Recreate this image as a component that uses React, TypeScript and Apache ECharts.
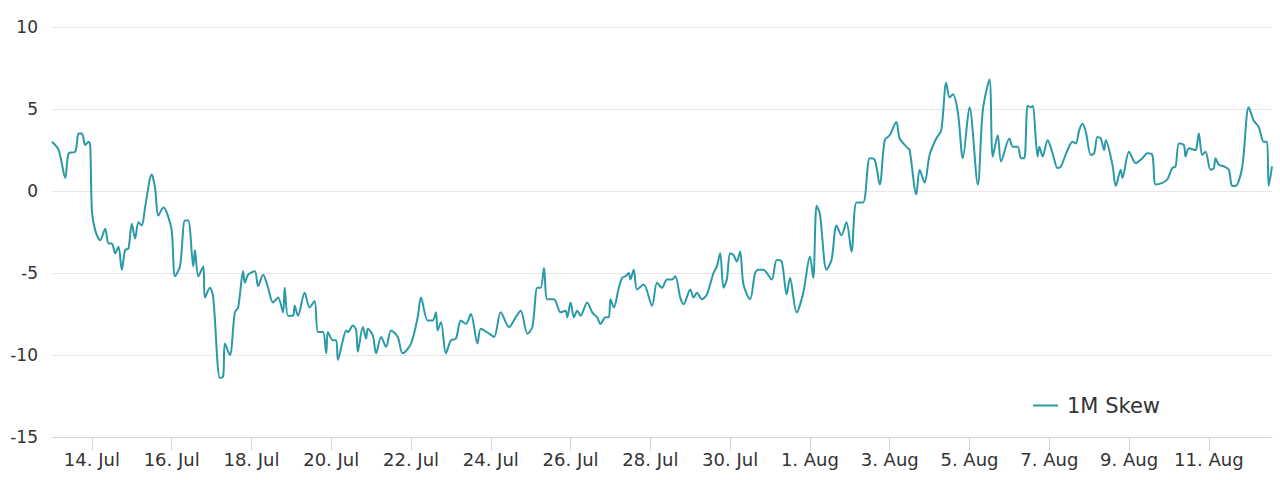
import React, { useEffect, useRef } from "react";
import * as echarts from "echarts";

const seriesName = "1M Skew";

// hours since 13 Jul 00:00
const hours = [0,4,8,10,14,16,18,20,22,23,24,26,29,32,34,36,38,40,42,44,46,48,50,52,54,56,60,62,64,67,69,72,74,77,80,82,85,86,88,91,92,95,97,101,103,104,107,110,112,115,116,118,122,124,127,130,133,136,139,140,142,145,146,148,152,155,158,160,163,165,166,169,171,172,175,177,178,181,183,184,187,189,190,193,195,198,201,204,208,211,216,220,222,226,229,231,232,234,237,240,243,246,249,252,256,258,263,266,270,275,279,282,286,289,292,294,296,298,302,306,309,310,312,314,316,318,322,325,328,330,333,335,336,338,341,343,345,347,348,350,352,356,361,364,367,370,373,375,378,380,384,386,388,391,394,398,400,402,404,406,408,410,412,414,416,420,423,425,428,433,436,439,442,444,448,452,456,458,460,462,466,469,472,475,478,481,484,488,492,495,498,501,504,508,510,515,516,520,522,525,528,532,535,538,540,542,545,548,552,557,560,564,566,569,571,576,578,581,583,585,587,589,590,593,594,596,599,602,605,607,611,614,616,618,620,622,625,627,629,631,633,634,638,640,643,644,648,652,656,659,662,664,668,671,674,676,678,681,682,684,688,689,690,692,694,697,699,700,702,705,708,710,712,716,720,723,726,729,731,732,734];

const skew = [3.0,2.5,0.8,2.3,2.4,3.5,3.5,2.8,3.0,2.8,-1.2,-2.4,-3.0,-2.3,-3.2,-3.2,-3.8,-3.4,-4.8,-3.6,-3.5,-2.0,-2.9,-1.9,-2.1,-1.0,1.0,0.2,-1.5,-1.0,-1.3,-2.4,-5.2,-4.6,-1.8,-1.8,-4.6,-3.6,-5.2,-4.6,-6.5,-5.9,-6.5,-11.4,-11.3,-9.3,-10.0,-7.4,-7.1,-4.9,-5.6,-5.1,-4.9,-5.8,-5.1,-5.9,-6.8,-6.5,-7.4,-5.9,-7.6,-7.6,-7.0,-7.6,-6.2,-7.1,-6.7,-8.6,-8.6,-9.9,-8.6,-9.1,-9.1,-10.3,-9.1,-8.5,-8.6,-8.2,-8.5,-9.8,-8.3,-9.0,-8.4,-8.8,-9.9,-8.9,-9.5,-8.5,-8.9,-9.9,-9.3,-7.7,-6.5,-7.9,-7.9,-7.4,-8.5,-8.0,-9.9,-9.1,-9.0,-7.9,-8.1,-7.5,-9.3,-8.4,-8.7,-8.9,-7.4,-8.3,-7.7,-7.3,-8.7,-8.3,-5.9,-5.9,-4.7,-6.6,-6.6,-7.4,-7.3,-7.7,-6.8,-7.7,-7.3,-7.6,-6.8,-7.4,-7.7,-8.1,-7.7,-7.7,-6.6,-7.1,-5.9,-5.3,-5.2,-5.0,-5.4,-4.8,-6.0,-5.7,-7.0,-5.6,-5.9,-5.4,-5.4,-5.2,-6.5,-6.9,-6.0,-6.5,-6.2,-6.6,-6.3,-5.0,-4.6,-3.8,-5.9,-5.4,-3.8,-3.9,-4.3,-3.7,-5.7,-6.6,-5.0,-4.8,-4.8,-5.4,-4.2,-4.3,-6.3,-5.3,-7.4,-6.2,-4.0,-5.3,-0.9,-1.4,-4.8,-4.2,-2.1,-2.7,-1.9,-3.7,-0.7,-0.7,2.0,1.9,0.4,3.1,3.4,4.2,3.2,2.6,2.5,-0.2,1.3,0.5,2.2,3.2,3.7,6.6,5.7,5.9,4.8,2.0,5.1,0.4,4.9,6.8,2.1,3.4,1.8,3.2,2.7,2.7,2.0,2.0,5.2,5.1,5.2,2.1,2.7,2.1,3.1,2.3,1.4,1.5,2.5,3.0,2.9,3.7,4.1,3.6,2.2,2.3,3.3,3.2,2.5,3.1,1.6,0.3,1.3,0.8,2.4,1.7,2.0,2.3,2.2,0.4,0.5,0.7,1.4,1.5,2.9,2.8,2.1,2.6,2.5,2.9,3.5,2.2,2.4,1.3,1.4,2.0,1.6,1.5,1.3,0.3,0.3,1.4,5.1,4.3,3.9,3.0,3.0,0.3,1.5];

const tickHours = [24,72,120,168,216,264,312,360,408,456,504,552,600,648,696];
const tickLabels = ["14. Jul","16. Jul","18. Jul","20. Jul","22. Jul","24. Jul","26. Jul","28. Jul","30. Jul","1. Aug","3. Aug","5. Aug","7. Aug","9. Aug","11. Aug"];

const yMin = -15;
const yMax = 10;
const yStep = 5;

export default function App() {
  const ref = useRef<HTMLDivElement>(null);
  useEffect(() => {
    if (!ref.current) return;
    const chart = echarts.init(ref.current, undefined, { renderer: "svg" });
    const font = "DejaVu Sans";
    chart.setOption({
      animation: false,
      backgroundColor: "#ffffff",
      grid: { left: 52, right: 8, top: 27, bottom: 43, containLabel: false },
      legend: {
        data: [{ name: seriesName, icon: "rect" }],
        left: 1033,
        top: 395,
        padding: 0,
        itemWidth: 25,
        itemHeight: 2,
        textStyle: { fontFamily: font, fontSize: 21, color: "#333333", padding: [0, 0, 0, 4] },
      },
      xAxis: {
        type: "value",
        min: 0,
        max: hours[hours.length - 1],
        axisLine: { show: true, onZero: false, lineStyle: { color: "#ccd6eb", width: 1 } },
        axisTick: { show: true, length: 14, lineStyle: { color: "#ccd6eb" }, customValues: tickHours },
        axisLabel: {
          customValues: tickHours,
          margin: 13,
          fontFamily: font,
          fontSize: 18,
          color: "#333333",
          formatter: (v: number) => {
            const i = tickHours.indexOf(v);
            return i >= 0 ? tickLabels[i] : "";
          },
        },
        splitLine: { show: false },
      },
      yAxis: {
        type: "value",
        min: yMin,
        max: yMax,
        interval: yStep,
        axisLine: { show: false },
        axisTick: { show: false },
        axisLabel: { margin: 14, fontFamily: font, fontSize: 17, color: "#333333" },
        splitLine: { show: true, lineStyle: { color: "#e6e6e6", width: 1 } },
      },
      series: [
        {
          name: seriesName,
          type: "line",
          data: hours.map((h, i) => [h, skew[i]]),
          symbol: "none",
          smooth: 0.3,
          lineStyle: { color: "#2a9aa6", width: 2 },
          itemStyle: { color: "#2a9aa6" },
        },
      ],
    });
    return () => chart.dispose();
  }, []);
  return <div ref={ref} style={{ position: "fixed", left: 0, top: 0, width: 1280, height: 480 }} />;
}
